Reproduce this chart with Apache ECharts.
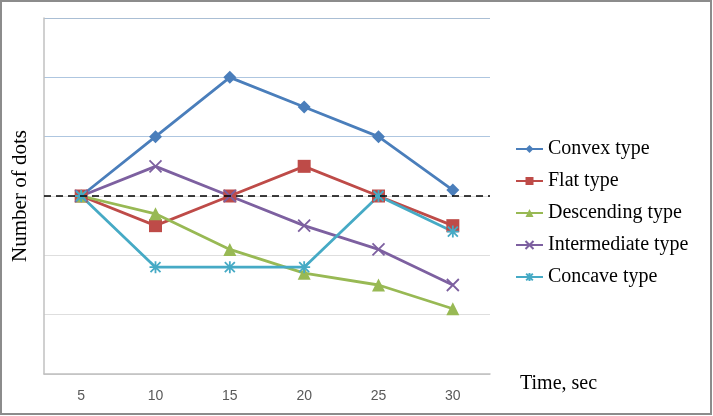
<!DOCTYPE html>
<html><head><meta charset="utf-8">
<script src="https://cdn.jsdelivr.net/npm/echarts@6/dist/echarts.min.js"></script>
<style>html,body{margin:0;padding:0;background:#fff}#c{width:713px;height:416px}</style>
</head><body><div id="c"></div>
<script>
const categories = ['5','10','15','20','25','30'];
const convex = [3.0, 4.0, 5.0, 4.5, 4.0, 3.1];
const flat = [3.0, 2.5, 3.0, 3.5, 3.0, 2.5];
const descending = [3.0, 2.7, 2.1, 1.7, 1.5, 1.1];
const intermediate = [3.0, 3.5, 3.0, 2.5, 2.1, 1.5];
const concave = [3.0, 1.8, 1.8, 1.8, 3.0, 2.4];
const referenceLevel = 3;

const chart = echarts.init(document.getElementById('c'), null, {renderer:'canvas'});
const serif = '"Liberation Serif","Times New Roman",serif';
const xPath = 'path://M0,0L10,10M10,0L0,10';
const starPath = 'path://M0,0L10,10M10,0L0,10M5,-1L5,11M-1,5L11,5';
function s(name, data, color, symbol, size, stroke) {
  const o = {
    name, type:'line', data, symbol, symbolSize:size,
    lineStyle:{color, width:2.8}, itemStyle:{color},
    emphasis:{disabled:true}, z:3
  };
  if (stroke) o.itemStyle = {color, borderColor:color, borderWidth:1.8};
  return o;
}
const series = [
  s('Convex type', convex, '#4a7ebb', 'diamond', 13),
  s('Flat type', flat, '#be4b48', 'rect', 13),
  s('Descending type', descending, '#98b954', 'triangle', 13),
  s('Intermediate type', intermediate, '#7d60a0', xPath, 12, true),
  s('Concave type', concave, '#46aac5', starPath, 12, true)
];
series[0].markLine = {
  silent:true, symbol:'none', label:{show:false},
  lineStyle:{color:'#000', type:[7,5], width:1.5},
  data:[{yAxis:referenceLevel}], z:5
};
chart.setOption({
  animation:false,
  grid:{left:44, right:223, top:18, bottom:42, containLabel:false, outerBoundsMode:'none'},
  graphic:[{type:'rect', shape:{x:1,y:1,width:710,height:413}, style:{fill:'none', stroke:'#8c8c8c', lineWidth:2}, silent:true}],
  legend:{
    orient:'vertical', left:510, top:134, padding:5, itemGap:12, itemWidth:27, itemHeight:10,
    textStyle:{fontFamily:serif, fontSize:20, color:'#000'},
    data:series.map(x=>x.name)
  },
  xAxis:{
    type:'category', data:categories, boundaryGap:true,
    axisLine:{lineStyle:{color:'#c0c0c0', width:1.5}},
    axisTick:{show:false},
    axisLabel:{color:'#595959', fontSize:14, fontFamily:'"Liberation Sans",Arial,sans-serif', margin:15},
    name:'Time, sec', nameLocation:'end', nameGap:30,
    nameTextStyle:{fontFamily:serif, fontSize:20, color:'#000', verticalAlign:'top'}
  },
  yAxis:{
    type:'value', min:0, max:6, interval:1,
    axisLabel:{show:false}, axisTick:{show:false},
    axisLine:{show:true, lineStyle:{color:'#c0c0c0', width:1.5}},
    splitLine:{lineStyle:{color:['#d0d0d0','#dedede','#dedede','#dedede','#aec6e0','#aec6e0','#aabed4'], width:1.2}},
    name:'Number of dots', nameLocation:'middle', nameGap:13,
    nameTextStyle:{fontFamily:serif, fontSize:21, color:'#000'}
  },
  series
});
</script></body></html>
